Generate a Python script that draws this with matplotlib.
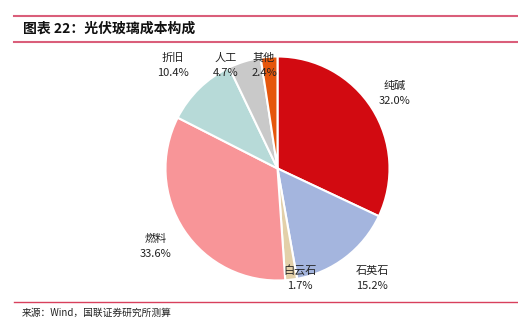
import matplotlib
matplotlib.use("Agg")
import matplotlib.pyplot as plt
from matplotlib.lines import Line2D

plt.rcParams['font.family'] = ['Noto Sans CJK SC', 'DejaVu Sans']

# Cost composition of PV glass (%)
categories = ["纯碱", "石英石", "白云石", "燃料", "折旧", "人工", "其他"]
shares = [32.0, 15.2, 1.7, 33.6, 10.4, 4.7, 2.4]
colors = ["#D20A11", "#A4B5DE", "#E3D0A9", "#F89598", "#B7DAD8", "#C9C9C9", "#E5560C"]

title = "图表 22：光伏玻璃成本构成"
source = "来源：Wind，国联证券研究所测算"

W, H = 518, 325
fig = plt.figure(figsize=(W / 100, H / 100), dpi=100)
fig.patch.set_facecolor("white")


def fx(px):
    return px / W


def fy(py):
    return 1 - py / H


# pie axes: centre (277.5, 168.5) px, radius 112 px
cx, cy, r = 277.5, 168.5, 112
ax = fig.add_axes([fx(cx - r), fy(cy + r), 2 * r / W, 2 * r / H])
ax.pie(shares, colors=colors, startangle=90, counterclock=False,
       wedgeprops=dict(edgecolor="white", linewidth=1.5))
ax.set_xlim(-1, 1)
ax.set_ylim(-1, 1)
ax.set_aspect("equal")
ax.axis("off")

# label anchor points (pixel centres of each two-line label)
label_pos = {
    "纯碱": (395, 93),
    "石英石": (372, 278),
    "白云石": (300, 278),
    "燃料": (156, 246),
    "折旧": (173, 65),
    "人工": (226, 65),
    "其他": (264, 65),
}
for name, val in zip(categories, shares):
    x, y = label_pos[name]
    fig.text(fx(x), fy(y - 7.5), name, ha="center", va="center",
             fontsize=8, color="#222222")
    fig.text(fx(x), fy(y + 8), f"{val:.1f}%", ha="center", va="center",
             fontsize=8, color="#222222")

# header rules and title
line_color = "#DA5E7A"
fig.add_artist(Line2D([fx(14), 1], [fy(16), fy(16)], color=line_color, lw=1.5))
fig.add_artist(Line2D([fx(14), 1], [fy(42), fy(42)], color=line_color, lw=1.5))
fig.text(fx(23), fy(29), title, ha="left", va="center", fontsize=10,
         fontweight="bold", color="#111111")

# footer rule and source
fig.add_artist(Line2D([fx(14), 1], [fy(302), fy(302)], color="#D8405C", lw=1.0))
fig.text(fx(22), fy(313), source, ha="left", va="center", fontsize=7,
         color="#222222")

fig.savefig("out.png", dpi=100, facecolor="white")
